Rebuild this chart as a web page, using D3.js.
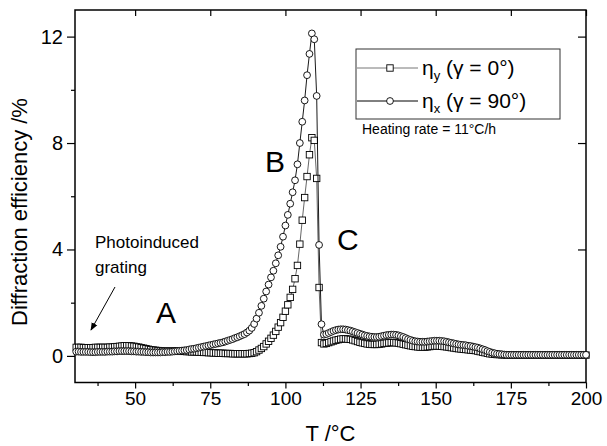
<!DOCTYPE html>
<html>
<head>
<meta charset="utf-8">
<script src="https://cdn.jsdelivr.net/npm/d3@7"></script>
<style>
  body { margin: 0; background: #fff; }
  svg { font-family: "Liberation Sans", Arial, sans-serif; }
</style>
</head>
<body>
<div id="my_dataviz"></div>
<script>
// measurement grid: one point every 0.8 °C starting at 30.4 °C
var tStart = 30.4, tStep = 0.8;

// eta_y (gamma = 0°), squares
var etaY = [
  0.32,0.32,0.32,0.31,0.31,0.31,0.31,0.31,0.32,0.32,
  0.32,0.32,0.32,0.32,0.33,0.33,0.34,0.35,0.36,0.37,
  0.38,0.38,0.38,0.37,0.36,0.34,0.33,0.31,0.29,0.27,
  0.25,0.23,0.22,0.21,0.20,0.19,0.18,0.18,0.18,0.18,
  0.18,0.18,0.18,0.17,0.17,0.17,0.16,0.16,0.15,0.15,
  0.15,0.14,0.14,0.13,0.13,0.12,0.12,0.11,0.11,0.10,
  0.10,0.10,0.09,0.09,0.09,0.08,0.08,0.08,0.08,0.08,
  0.08,0.08,0.09,0.10,0.12,0.16,0.22,0.28,0.35,0.45,
  0.55,0.66,0.78,0.92,1.08,1.25,1.45,1.68,1.92,2.20,
  2.50,2.90,3.40,4.20,5.10,5.95,6.74,7.56,8.20,8.10,
  6.67,2.57,0.50,0.45,0.47,0.50,0.53,0.56,0.59,0.61,
  0.63,0.64,0.64,0.63,0.62,0.60,0.57,0.54,0.51,0.49,
  0.47,0.45,0.44,0.43,0.43,0.43,0.44,0.45,0.47,0.48,
  0.49,0.50,0.50,0.49,0.48,0.46,0.44,0.42,0.40,0.38,
  0.36,0.35,0.34,0.33,0.33,0.33,0.34,0.35,0.36,0.37,
  0.37,0.37,0.36,0.35,0.34,0.33,0.31,0.30,0.28,0.27,
  0.26,0.25,0.24,0.23,0.22,0.21,0.20,0.18,0.16,0.14,
  0.12,0.10,0.08,0.07,0.06,0.05,0.05,0.04,0.04,0.04,
  0.03,0.03,0.03,0.03,0.03,0.03,0.03,0.03,0.03,0.03,
  0.03,0.03,0.03,0.03,0.03,0.03,0.03,0.03,0.03,0.03,
  0.03,0.03,0.03,0.03,0.03,0.03,0.03,0.03,0.03,0.03,
  0.03,0.03,0.03
];

// eta_x (gamma = 90°), circles
var etaX = [
  0.16,0.16,0.15,0.15,0.15,0.15,0.14,0.14,0.14,0.15,
  0.15,0.15,0.15,0.16,0.16,0.16,0.17,0.17,0.18,0.18,
  0.18,0.18,0.18,0.17,0.17,0.16,0.16,0.15,0.15,0.14,
  0.14,0.13,0.13,0.13,0.13,0.13,0.14,0.14,0.15,0.15,
  0.16,0.17,0.18,0.19,0.20,0.21,0.22,0.24,0.26,0.27,
  0.29,0.31,0.33,0.35,0.37,0.39,0.41,0.43,0.45,0.47,
  0.49,0.51,0.54,0.57,0.60,0.63,0.67,0.70,0.74,0.78,
  0.82,0.88,0.95,1.05,1.20,1.40,1.62,1.88,2.15,2.42,
  2.68,2.95,3.20,3.48,3.78,4.10,4.48,4.90,5.30,5.72,
  6.15,6.60,7.20,8.00,8.80,9.60,10.55,11.35,12.12,11.90,
  9.77,4.17,1.19,0.80,0.82,0.86,0.90,0.94,0.97,0.99,
  1.00,1.00,0.99,0.97,0.95,0.92,0.89,0.86,0.83,0.80,
  0.77,0.75,0.73,0.72,0.71,0.71,0.72,0.74,0.76,0.78,
  0.79,0.80,0.80,0.79,0.77,0.74,0.71,0.67,0.63,0.60,
  0.57,0.55,0.54,0.53,0.53,0.53,0.54,0.55,0.56,0.57,
  0.57,0.57,0.56,0.55,0.53,0.51,0.49,0.47,0.45,0.43,
  0.42,0.41,0.40,0.38,0.37,0.35,0.33,0.31,0.28,0.25,
  0.22,0.18,0.15,0.12,0.10,0.08,0.07,0.06,0.05,0.04,
  0.04,0.04,0.04,0.04,0.04,0.04,0.04,0.04,0.04,0.04,
  0.04,0.04,0.04,0.04,0.04,0.04,0.04,0.04,0.04,0.04,
  0.04,0.04,0.04,0.04,0.04,0.04,0.04,0.04,0.04,0.04,
  0.04,0.04,0.04
];

var xTicks = [50, 75, 100, 125, 150, 175, 200];
var xMinor = [37.5, 62.5, 87.5, 112.5, 137.5, 162.5, 187.5];
var yTicks = [0, 4, 8, 12];
var yMinor = [2, 6, 10];

var temps = etaY.map(function(d, i) { return +(tStart + i * tStep).toFixed(1); });

var W = 607, H = 446;
var plotL = 75, plotR = 586, plotT = 10, plotB = 382.5;

var svg = d3.select("#my_dataviz")
  .append("svg")
    .attr("width", W)
    .attr("height", H);

var x = d3.scaleLinear().domain([30, 200]).range([plotL, plotR]);
var y = d3.scaleLinear().domain([-1, 13]).range([plotB, plotT]);

// bottom axis, ticks outside
svg.append("g")
  .attr("transform", "translate(0," + plotB + ")")
  .call(d3.axisBottom(x).tickValues(xTicks).tickSize(6).tickSizeOuter(0).tickPadding(3))
  .call(function(g) { g.select(".domain").remove(); })
  .selectAll("text").style("font-size", "19px").attr("fill", "#000");
svg.append("g")
  .attr("transform", "translate(0," + plotB + ")")
  .call(d3.axisBottom(x).tickValues(xMinor).tickSize(3.5).tickFormat(""))
  .call(function(g) { g.select(".domain").remove(); });

// left axis, ticks outside
svg.append("g")
  .attr("transform", "translate(" + plotL + ",0)")
  .call(d3.axisLeft(y).tickValues(yTicks).tickSize(8).tickSizeOuter(0).tickPadding(4))
  .call(function(g) { g.select(".domain").remove(); })
  .selectAll("text").style("font-size", "20px").attr("fill", "#000");
svg.append("g")
  .attr("transform", "translate(" + plotL + ",0)")
  .call(d3.axisLeft(y).tickValues(yMinor).tickSize(4).tickFormat(""))
  .call(function(g) { g.select(".domain").remove(); });

// top and right axes, ticks inside, no labels
svg.append("g")
  .attr("transform", "translate(0," + plotT + ")")
  .call(d3.axisBottom(x).tickValues(xTicks).tickSize(6).tickFormat(""))
  .call(function(g) { g.select(".domain").remove(); });
svg.append("g")
  .attr("transform", "translate(" + plotR + ",0)")
  .call(d3.axisLeft(y).tickValues(yTicks).tickSize(8).tickFormat(""))
  .call(function(g) { g.select(".domain").remove(); });

svg.selectAll(".tick line").attr("stroke", "#000").attr("stroke-width", 1.2);

// frame
svg.append("rect")
  .attr("x", plotL).attr("y", plotT)
  .attr("width", plotR - plotL).attr("height", plotB - plotT)
  .attr("fill", "none")
  .attr("stroke", "#000")
  .attr("stroke-width", 1.5);

// axis titles
svg.append("text")
  .attr("x", (plotL + plotR) / 2)
  .attr("y", 441)
  .attr("text-anchor", "middle")
  .style("font-size", "22px")
  .text("T /°C");

svg.append("text")
  .attr("transform", "translate(27," + 212 + ") rotate(-90)")
  .attr("text-anchor", "middle")
  .style("font-size", "22px")
  .text("Diffraction efficiency /%");

var dataY = temps.map(function(t, i) { return {t: t, v: etaY[i]}; });
var dataX = temps.map(function(t, i) { return {t: t, v: etaX[i]}; });

var line = d3.line()
  .x(function(d) { return x(d.t); })
  .y(function(d) { return y(d.v); });

// eta_y: grey line with open squares
svg.append("path")
  .datum(dataY)
  .attr("d", line)
  .attr("fill", "none")
  .attr("stroke", "#555")
  .attr("stroke-width", 0.9);

var sq = 6.4;
svg.append("g")
  .selectAll("rect")
  .data(dataY)
  .join("rect")
    .attr("x", function(d) { return x(d.t) - sq / 2; })
    .attr("y", function(d) { return y(d.v) - sq / 2; })
    .attr("width", sq)
    .attr("height", sq)
    .attr("fill", "#fff")
    .attr("stroke", "#000")
    .attr("stroke-width", 0.9);

// eta_x: black line with open circles
svg.append("path")
  .datum(dataX)
  .attr("d", line)
  .attr("fill", "none")
  .attr("stroke", "#000")
  .attr("stroke-width", 0.9);

svg.append("g")
  .selectAll("circle")
  .data(dataX)
  .join("circle")
    .attr("cx", function(d) { return x(d.t); })
    .attr("cy", function(d) { return y(d.v); })
    .attr("r", 3.4)
    .attr("fill", "#fff")
    .attr("stroke", "#000")
    .attr("stroke-width", 0.9);

// legend
var lg = svg.append("g");
lg.append("rect")
  .attr("x", 356).attr("y", 49)
  .attr("width", 204).attr("height", 70)
  .attr("fill", "#fff")
  .attr("stroke", "#333")
  .attr("stroke-width", 1);

lg.append("line")
  .attr("x1", 357).attr("x2", 418).attr("y1", 68).attr("y2", 68)
  .attr("stroke", "#777").attr("stroke-width", 1);
lg.append("rect")
  .attr("x", 390 - sq / 2).attr("y", 68 - sq / 2)
  .attr("width", sq).attr("height", sq)
  .attr("fill", "#fff").attr("stroke", "#000").attr("stroke-width", 0.9);

lg.append("line")
  .attr("x1", 357).attr("x2", 418).attr("y1", 101).attr("y2", 101)
  .attr("stroke", "#000").attr("stroke-width", 1);
lg.append("circle")
  .attr("cx", 390).attr("cy", 101).attr("r", 3.4)
  .attr("fill", "#fff").attr("stroke", "#000").attr("stroke-width", 0.9);

function legendLabel(yy, sub, rest) {
  var t = lg.append("text")
    .attr("x", 422).attr("y", yy)
    .style("font-size", "21px");
  t.append("tspan").text("η");
  t.append("tspan").attr("dy", 5).style("font-size", "13px").text(sub);
  t.append("tspan").attr("dy", -5).text(" " + rest);
}
legendLabel(75, "y", "(γ = 0°)");
legendLabel(108, "x", "(γ = 90°)");

svg.append("text")
  .attr("x", 362).attr("y", 134)
  .style("font-size", "14px")
  .text("Heating rate = 11°C/h");

// annotations
svg.append("text").attr("x", 156).attr("y", 323).style("font-size", "30px").text("A");
svg.append("text").attr("x", 265).attr("y", 172).style("font-size", "30px").text("B");
svg.append("text").attr("x", 337).attr("y", 250).style("font-size", "30px").text("C");

svg.append("text").attr("x", 95).attr("y", 248).style("font-size", "17px").text("Photoinduced");
svg.append("text").attr("x", 95).attr("y", 273).style("font-size", "17px").text("grating");

svg.append("defs").append("marker")
  .attr("id", "arrow")
  .attr("viewBox", "0 0 10 10")
  .attr("refX", 9).attr("refY", 5)
  .attr("markerWidth", 8).attr("markerHeight", 8)
  .attr("markerUnits", "userSpaceOnUse")
  .attr("orient", "auto")
  .append("path")
    .attr("d", "M0,1 L10,5 L0,9 Z")
    .attr("fill", "#000");

svg.append("line")
  .attr("x1", 115).attr("y1", 287)
  .attr("x2", 91).attr("y2", 330)
  .attr("stroke", "#000")
  .attr("stroke-width", 1)
  .attr("marker-end", "url(#arrow)");
</script>
</body>
</html>
